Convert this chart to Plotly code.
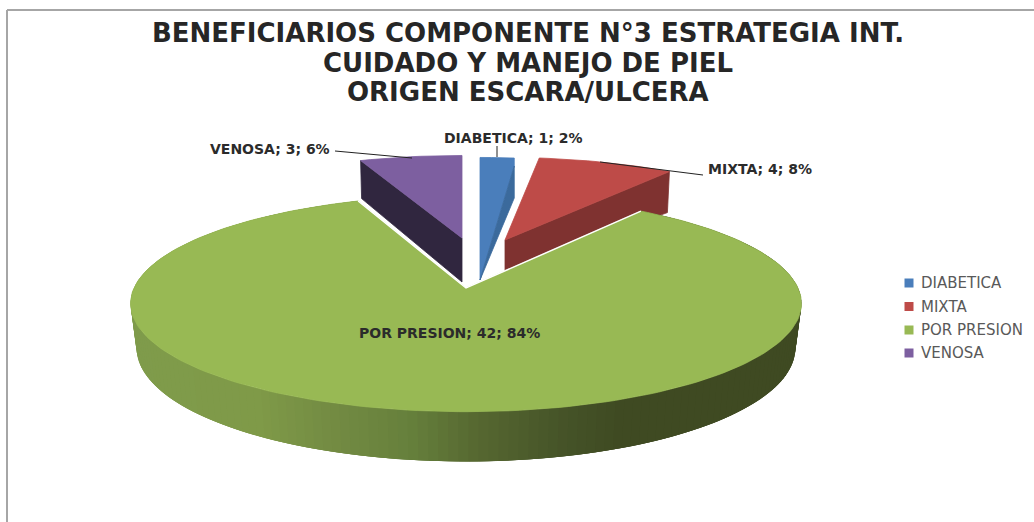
import math
import plotly.graph_objects as go

# ---- data ----
categories = ["DIABETICA", "MIXTA", "POR PRESION", "VENOSA"]
values = [1, 4, 42, 3]
title_lines = ["BENEFICIARIOS COMPONENTE N°3 ESTRATEGIA INT.",
               "CUIDADO Y MANEJO DE PIEL", "ORIGEN ESCARA/ULCERA"]

# ---- styles ----
top_colors = {"DIABETICA": "#4a7ebb", "MIXTA": "#be4b48", "POR PRESION": "#98b954", "VENOSA": "#7d5fa0"}
wall_colors = {"DIABETICA": "#3b6a9c", "MIXTA": "#7f3230", "VENOSA": "#30263f"}
apex = {"DIABETICA": (480, 240), "MIXTA": (505, 240), "POR PRESION": (466, 288), "VENOSA": (462, 238)}
radius_scale = {"DIABETICA": (0.94, 0.89), "MIXTA": (0.94, 0.89), "POR PRESION": (1, 1), "VENOSA": (0.94, 0.89)}
R, K, P = 332, 106, 0.143     # projection of the tilted disc
DEPTH_BACK = 40               # extrusion of the small slices
GREEN_DEPTH, GREEN_RB, GREEN_KB = 44, 326, 111
side_stops = [(130, (127, 155, 75)), (250, (127, 154, 72)), (330, (114, 138, 66)), (400, (102, 128, 60)),
              (466, (86, 104, 49)), (550, (70, 84, 40)), (610, (63, 74, 34)), (802, (63, 74, 34))]

total = sum(values)
bounds = [0]
for v in values:
    bounds.append(bounds[-1] + v / total * 360)


def project(deg, rx, ky):
    t = math.radians(deg)
    u, v = math.sin(t), math.cos(t)
    s = 1 / (1 + P * v)
    return rx * u * s, ky * v * s


def arc(a0, a1, ox, oy, rx, ky, n=None):
    n = n or max(2, int(abs(a1 - a0) / 2))
    pts = []
    for i in range(n + 1):
        x, y = project(a0 + (a1 - a0) * i / n, rx, ky)
        pts.append((ox + x, oy - y))
    return pts


def side_color(x):
    for (x0, c0), (x1, c1) in zip(side_stops, side_stops[1:]):
        if x <= x1:
            f = max(0, (x - x0) / (x1 - x0))
            return "rgb(%d,%d,%d)" % tuple(round(a + (b - a) * f) for a, b in zip(c0, c1))
    return "rgb(%d,%d,%d)" % side_stops[-1][1]


fig = go.Figure()


def poly(pts, color, line=None, width=0.8):
    fig.add_trace(go.Scatter(
        x=[p[0] for p in pts] + [pts[0][0]], y=[p[1] for p in pts] + [pts[0][1]],
        mode="lines", fill="toself", fillcolor=color,
        line=dict(color=line or color, width=width),
        hoverinfo="skip", showlegend=False))


# small slices, back to front
for name in ["VENOSA", "DIABETICA", "MIXTA"]:
    i = categories.index(name)
    a0, a1 = bounds[i], bounds[i + 1]
    ox, oy = apex[name]
    sx, sy = radius_scale[name]
    if name == "VENOSA":
        a0, a1 = a0 - 360, a1 - 360
    pts = arc(a0, a1, ox, oy, R * sx, K * sy)
    if name == "DIABETICA":
        end = pts[-1]
        low = (ox, oy + DEPTH_BACK)
        poly([low] + pts + [(end[0], end[1] + 8)], top_colors[name])
        poly([(end[0], end[1] + 8), (end[0], end[1] + DEPTH_BACK), low], wall_colors[name])
    elif name == "MIXTA":
        end = pts[-1]
        poly([(ox, oy), end, (end[0] - 2, end[1] + 41), (ox, oy + 32)], wall_colors[name])
        poly([(ox, oy)] + pts, top_colors[name])
    else:
        start = pts[0]
        poly([(ox, oy), start, (start[0] + 1, start[1] + 38), (ox, oy + 44)], wall_colors[name])
        poly([(ox, oy)] + pts, top_colors[name])

# large slice: outer wall as overlapping gradient strips, then its top face
i = categories.index("POR PRESION")
a0, a1 = bounds[i], bounds[i + 1]
ox, oy = apex["POR PRESION"]
N = 200
upper = arc(a0, a1, ox, oy, R, K, N)
lower = arc(a0, a1, ox, oy + GREEN_DEPTH, GREEN_RB, GREEN_KB, N)
for j in range(N):
    k = min(N, j + 3)
    quad = upper[j:k + 1] + lower[j:k + 1][::-1]
    poly(quad, side_color(sum(p[0] for p in quad) / len(quad)), width=0)
poly([(ox, oy)] + upper, top_colors["POR PRESION"])
# white seam along the two cut edges of the large slice
fig.add_trace(go.Scatter(x=[upper[0][0], ox, upper[-1][0]], y=[upper[0][1], oy, upper[-1][1]],
                         mode="lines", line=dict(color="#ffffff", width=1.5),
                         hoverinfo="skip", showlegend=False))

# legend swatches
legend_x, legend_text_x = 909, 921
legend_y = [283, 306.5, 330, 353]
fig.add_trace(go.Scatter(x=[legend_x] * len(categories), y=legend_y, mode="markers", hoverinfo="skip",
                         showlegend=False,
                         marker=dict(symbol="square", size=9, color=[top_colors[c] for c in categories])))


def label(name):
    i = categories.index(name)
    return f"{name}; {values[i]}; {round(values[i] / total * 100)}%"


label_pos = {"DIABETICA": (513, 138), "MIXTA": (760, 169), "POR PRESION": (449, 333), "VENOSA": (270, 149)}
annotations = [dict(x=label_pos[n][0], y=label_pos[n][1], text=f"<b>{label(n)}</b>", showarrow=False,
                    xref="x", yref="y", font=dict(family="DejaVu Sans", size=14, color="#2b2b2b"))
               for n in categories]
annotations += [dict(x=legend_text_x, y=y, text=c, showarrow=False, xref="x", yref="y", xanchor="left",
                     xshift=-2, font=dict(family="DejaVu Sans", size=15, color="#595959"))
                for c, y in zip(categories, legend_y)]
annotations += [dict(x=528, y=y, text=f"<b>{t}</b>", showarrow=False, xref="x", yref="y",
                     font=dict(family="DejaVu Sans", size=26, color="#262626"))
                for t, y in zip(title_lines, [33, 63, 92])]

leaders = [((335, 151), (412, 158)), ((600, 162), (703, 175)), ((497, 146), (497, 157))]
shapes = [dict(type="line", xref="x", yref="y", x0=a[0], y0=a[1], x1=b[0], y1=b[1],
               line=dict(color="#222222", width=1)) for a, b in leaders]
# chart frame
shapes += [dict(type="line", xref="x", yref="y", x0=7, y0=10, x1=1034, y1=10, line=dict(color="#a6a6a6", width=2)),
           dict(type="line", xref="x", yref="y", x0=7, y0=10, x1=7, y1=522, line=dict(color="#a6a6a6", width=2))]

fig.update_layout(
    width=1034, height=522, margin=dict(l=0, r=0, t=0, b=0),
    paper_bgcolor="white", plot_bgcolor="white",
    xaxis=dict(range=[0, 1034], visible=False, fixedrange=True),
    yaxis=dict(range=[522, 0], visible=False, fixedrange=True),
    annotations=annotations, shapes=shapes, showlegend=False,
)

fig.write_html("out.html", config={"displayModeBar": False},
               post_script="document.body.style.margin='0';document.body.style.overflow='hidden';")
